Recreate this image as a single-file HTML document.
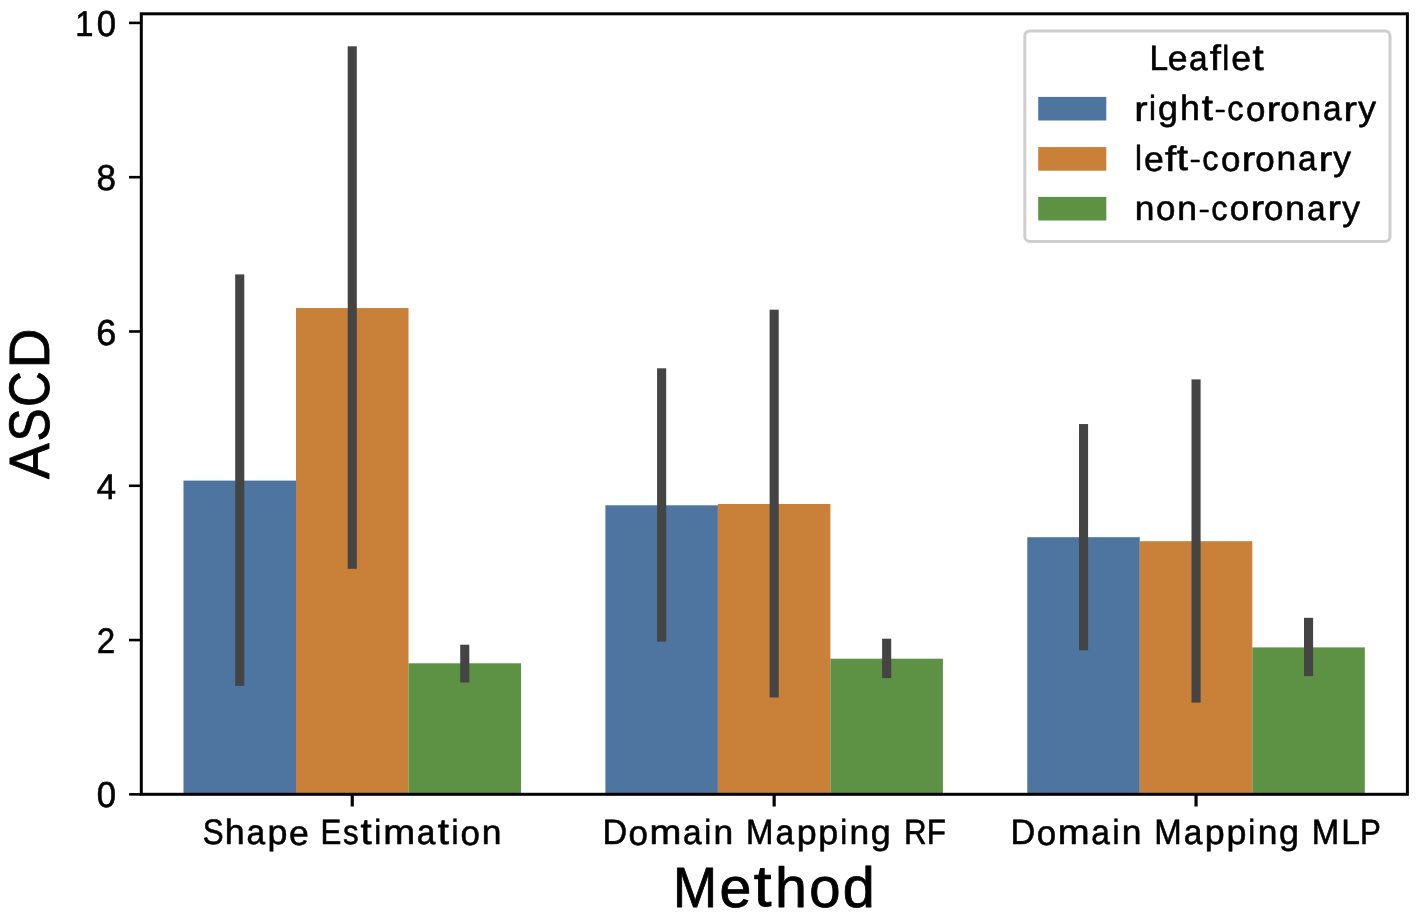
<!DOCTYPE html>
<html><head><meta charset="utf-8"><title>ASCD by Method</title>
<style>
html,body{margin:0;padding:0;background:#fff;}
body{width:1417px;height:914px;overflow:hidden;font-family:"Liberation Sans",sans-serif;}
svg{display:block;will-change:transform;}
text{font-family:"Liberation Sans",sans-serif;fill:#000;stroke:#000;stroke-linejoin:round;text-rendering:geometricPrecision;}
.s text{font-size:36px;stroke-width:0.6px;}
.b text{font-size:57px;stroke-width:0.85px;}
</style></head><body>
<svg width="1417" height="914" viewBox="0 0 1417 914" role="img">
<desc>Grouped bar chart of ASCD by Method (Shape Estimation, Domain Mapping RF, Domain Mapping MLP) with error bars; legend Leaflet: right-coronary, left-coronary, non-coronary.</desc>
<g>
<rect x="183.49" y="480.60" width="112.51" height="313.60" fill="#4e74a0"/>
<rect x="296.00" y="308.05" width="112.51" height="486.15" fill="#c98039"/>
<rect x="408.50" y="663.30" width="112.51" height="130.90" fill="#5d9143"/>
<rect x="605.39" y="505.30" width="112.51" height="288.90" fill="#4e74a0"/>
<rect x="717.90" y="504.00" width="112.51" height="290.20" fill="#c98039"/>
<rect x="830.40" y="658.70" width="112.51" height="135.50" fill="#5d9143"/>
<rect x="1027.29" y="537.20" width="112.51" height="257.00" fill="#4e74a0"/>
<rect x="1139.80" y="541.20" width="112.51" height="253.00" fill="#c98039"/>
<rect x="1252.30" y="647.40" width="112.51" height="146.80" fill="#5d9143"/>
</g>
<g>
<rect x="235.19" y="274.40" width="9.10" height="411.50" fill="#444444"/>
<rect x="347.70" y="46.30" width="9.10" height="522.50" fill="#444444"/>
<rect x="460.21" y="644.70" width="9.10" height="37.80" fill="#444444"/>
<rect x="657.09" y="368.30" width="9.10" height="273.30" fill="#444444"/>
<rect x="769.60" y="309.70" width="9.10" height="387.80" fill="#444444"/>
<rect x="882.11" y="638.70" width="9.10" height="39.40" fill="#444444"/>
<rect x="1078.99" y="424.05" width="9.10" height="226.25" fill="#444444"/>
<rect x="1191.50" y="379.40" width="9.10" height="323.20" fill="#444444"/>
<rect x="1304.01" y="617.80" width="9.10" height="58.30" fill="#444444"/>
</g>
<rect x="141.30" y="13.80" width="1266.10" height="780.50" fill="none" stroke="#000" stroke-width="3.0" stroke-linejoin="miter"/>
<line x1="129.00" y1="794.35" x2="141.30" y2="794.35" stroke="#000" stroke-width="2.6"/>
<line x1="129.00" y1="640.06" x2="141.30" y2="640.06" stroke="#000" stroke-width="2.6"/>
<line x1="129.00" y1="485.77" x2="141.30" y2="485.77" stroke="#000" stroke-width="2.6"/>
<line x1="129.00" y1="331.48" x2="141.30" y2="331.48" stroke="#000" stroke-width="2.6"/>
<line x1="129.00" y1="177.19" x2="141.30" y2="177.19" stroke="#000" stroke-width="2.6"/>
<line x1="129.00" y1="22.90" x2="141.30" y2="22.90" stroke="#000" stroke-width="2.6"/>
<line x1="352.25" y1="794.20" x2="352.25" y2="806.50" stroke="#000" stroke-width="3.2"/>
<line x1="774.15" y1="794.20" x2="774.15" y2="806.50" stroke="#000" stroke-width="3.2"/>
<line x1="1196.05" y1="794.20" x2="1196.05" y2="806.50" stroke="#000" stroke-width="3.2"/>
<g class="s">
<g aria-label="0"><text stroke-width="0.66" transform="matrix(0.9631 0 0 0.9979 96.72 807.36)">0</text></g>
<g aria-label="2"><text stroke-width="0.73" transform="matrix(0.9208 0 0 0.9897 96.69 652.90)">2</text></g>
<g aria-label="4"><text stroke-width="0.66" transform="matrix(0.9653 0 0 0.9889 96.69 498.64)">4</text></g>
<g aria-label="6"><text transform="matrix(1.0004 0 0 1.0002 96.35 344.52)">6</text></g>
<g aria-label="8"><text stroke-width="0.64" transform="matrix(0.9743 0 0 0.9986 96.61 190.21)">8</text></g>
<g aria-label="10"><text stroke-width="0.75" transform="matrix(0.9082 0 0 0.9852 75.37 35.73)">1</text><text stroke-width="0.66" transform="matrix(0.9631 0 0 0.9979 96.72 35.91)">0</text></g>
<g aria-label="Shape Estimation"><text stroke-width="0.83" transform="matrix(0.8700 0 0 0.9851 202.78 844.42)">S</text><text transform="matrix(0.9909 0 0 0.9754 224.83 844.39)">h</text><text stroke-width="0.71" transform="matrix(0.9296 0 0 0.9624 246.56 844.49)">a</text><text transform="matrix(0.9961 0 0 0.9595 267.62 844.36)">p</text><text transform="matrix(0.9896 0 0 0.9674 288.92 844.54)">e</text> <text stroke-width="0.83" transform="matrix(0.8700 0 0 0.9759 320.48 844.28)">E</text><text stroke-width="0.83" transform="matrix(0.8700 0 0 0.9591 343.06 844.43)">s</text><text stroke-width="0.38" transform="matrix(1.1200 0 0 1.0062 360.57 844.23)">t</text><text stroke-width="0.83" transform="matrix(0.8700 0 0 0.9670 374.27 844.28)">i</text><text stroke-width="0.49" transform="matrix(1.0628 0 0 0.9662 383.30 844.45)">m</text><text stroke-width="0.71" transform="matrix(0.9296 0 0 0.9624 416.79 844.49)">a</text><text stroke-width="0.38" transform="matrix(1.1200 0 0 1.0062 437.75 844.23)">t</text><text stroke-width="0.83" transform="matrix(0.8700 0 0 0.9670 451.45 844.28)">i</text><text stroke-width="0.65" transform="matrix(0.9719 0 0 0.9659 460.41 844.52)">o</text><text stroke-width="0.63" transform="matrix(0.9833 0 0 0.9593 481.66 844.39)">n</text></g>
<g aria-label="Domain Mapping RF"><text stroke-width="0.68" transform="matrix(0.9509 0 0 0.9821 602.38 844.36)">D</text><text stroke-width="0.65" transform="matrix(0.9719 0 0 0.9659 628.56 844.52)">o</text><text stroke-width="0.49" transform="matrix(1.0628 0 0 0.9662 649.56 844.45)">m</text><text stroke-width="0.71" transform="matrix(0.9296 0 0 0.9624 683.05 844.49)">a</text><text stroke-width="0.83" transform="matrix(0.8700 0 0 0.9670 704.31 844.28)">i</text><text stroke-width="0.63" transform="matrix(0.9833 0 0 0.9593 713.59 844.39)">n</text> <text stroke-width="0.74" transform="matrix(0.9165 0 0 0.9797 746.09 844.33)">M</text><text stroke-width="0.71" transform="matrix(0.9296 0 0 0.9624 775.56 844.49)">a</text><text transform="matrix(0.9961 0 0 0.9595 796.63 844.36)">p</text><text transform="matrix(0.9961 0 0 0.9595 818.34 844.36)">p</text><text stroke-width="0.83" transform="matrix(0.8700 0 0 0.9670 840.24 844.28)">i</text><text stroke-width="0.63" transform="matrix(0.9833 0 0 0.9593 849.52 844.39)">n</text><text transform="matrix(0.9950 0 0 0.9607 870.82 844.35)">g</text> <text stroke-width="0.82" transform="matrix(0.8704 0 0 0.9766 903.90 844.29)">R</text><text stroke-width="0.83" transform="matrix(0.8700 0 0 0.9759 926.77 844.28)">F</text></g>
<g aria-label="Domain Mapping MLP"><text stroke-width="0.68" transform="matrix(0.9509 0 0 0.9821 1010.49 844.36)">D</text><text stroke-width="0.65" transform="matrix(0.9719 0 0 0.9659 1036.68 844.52)">o</text><text stroke-width="0.49" transform="matrix(1.0628 0 0 0.9662 1057.67 844.45)">m</text><text stroke-width="0.71" transform="matrix(0.9296 0 0 0.9624 1091.17 844.49)">a</text><text stroke-width="0.83" transform="matrix(0.8700 0 0 0.9670 1112.42 844.28)">i</text><text stroke-width="0.63" transform="matrix(0.9833 0 0 0.9593 1121.71 844.39)">n</text> <text stroke-width="0.74" transform="matrix(0.9165 0 0 0.9797 1154.20 844.33)">M</text><text stroke-width="0.71" transform="matrix(0.9296 0 0 0.9624 1183.68 844.49)">a</text><text transform="matrix(0.9961 0 0 0.9595 1204.75 844.36)">p</text><text transform="matrix(0.9961 0 0 0.9595 1226.46 844.36)">p</text><text stroke-width="0.83" transform="matrix(0.8700 0 0 0.9670 1248.35 844.28)">i</text><text stroke-width="0.63" transform="matrix(0.9833 0 0 0.9593 1257.64 844.39)">n</text><text transform="matrix(0.9950 0 0 0.9607 1278.93 844.35)">g</text> <text stroke-width="0.74" transform="matrix(0.9165 0 0 0.9797 1311.84 844.33)">M</text><text stroke-width="0.71" transform="matrix(0.9327 0 0 0.9809 1341.29 844.35)">L</text><text stroke-width="0.83" transform="matrix(0.8700 0 0 0.9759 1359.89 844.28)">P</text></g>
</g>
<rect x="1024.8" y="30.9" width="365.2" height="210.6" rx="5" ry="5" fill="#ffffff" stroke="#cecece" stroke-width="3"/>
<rect x="1038.2" y="96.90" width="68.1" height="23.6" fill="#4e74a0"/>
<rect x="1038.2" y="147.10" width="68.1" height="23.6" fill="#c98039"/>
<rect x="1038.2" y="196.90" width="68.1" height="23.6" fill="#5d9143"/>
<g class="s">
<g aria-label="right-coronary"><text stroke-width="0.38" transform="matrix(1.1200 0 0 0.9719 1134.32 120.51)">r</text><text stroke-width="0.83" transform="matrix(0.8700 0 0 0.9670 1149.05 120.28)">i</text><text transform="matrix(0.9950 0 0 0.9607 1157.95 120.35)">g</text><text transform="matrix(0.9909 0 0 0.9754 1179.91 120.39)">h</text><text stroke-width="0.38" transform="matrix(1.1200 0 0 1.0062 1201.64 120.23)">t</text><text stroke-width="0.68" transform="matrix(0.9468 0 0 0.7349 1214.55 118.33)">-</text><text stroke-width="0.75" transform="matrix(0.9046 0 0 0.9604 1227.28 120.47)">c</text><text stroke-width="0.65" transform="matrix(0.9719 0 0 0.9659 1245.94 120.52)">o</text><text stroke-width="0.38" transform="matrix(1.1200 0 0 0.9719 1266.75 120.51)">r</text><text stroke-width="0.65" transform="matrix(0.9719 0 0 0.9659 1280.17 120.52)">o</text><text stroke-width="0.63" transform="matrix(0.9833 0 0 0.9593 1301.43 120.39)">n</text><text stroke-width="0.71" transform="matrix(0.9296 0 0 0.9624 1323.02 120.49)">a</text><text stroke-width="0.38" transform="matrix(1.1200 0 0 0.9719 1343.61 120.51)">r</text><text stroke-width="0.62" transform="matrix(0.9852 0 0 0.9539 1358.30 120.40)">y</text></g>
<g aria-label="left-coronary"><text stroke-width="0.83" transform="matrix(0.8700 0 0 0.9670 1134.97 170.28)">l</text><text transform="matrix(0.9896 0 0 0.9674 1143.88 170.54)">e</text><text stroke-width="0.38" transform="matrix(1.1200 0 0 0.9856 1165.06 170.51)">f</text><text stroke-width="0.38" transform="matrix(1.1200 0 0 1.0062 1176.68 170.23)">t</text><text stroke-width="0.68" transform="matrix(0.9468 0 0 0.7349 1189.59 168.33)">-</text><text stroke-width="0.75" transform="matrix(0.9046 0 0 0.9604 1202.31 170.47)">c</text><text stroke-width="0.65" transform="matrix(0.9719 0 0 0.9659 1220.98 170.52)">o</text><text stroke-width="0.38" transform="matrix(1.1200 0 0 0.9719 1241.78 170.51)">r</text><text stroke-width="0.65" transform="matrix(0.9719 0 0 0.9659 1255.21 170.52)">o</text><text stroke-width="0.63" transform="matrix(0.9833 0 0 0.9593 1276.46 170.39)">n</text><text stroke-width="0.71" transform="matrix(0.9296 0 0 0.9624 1298.06 170.49)">a</text><text stroke-width="0.38" transform="matrix(1.1200 0 0 0.9719 1318.65 170.51)">r</text><text stroke-width="0.62" transform="matrix(0.9852 0 0 0.9539 1333.33 170.40)">y</text></g>
<g aria-label="non-coronary"><text stroke-width="0.63" transform="matrix(0.9833 0 0 0.9593 1134.77 220.29)">n</text><text stroke-width="0.65" transform="matrix(0.9719 0 0 0.9659 1156.12 220.42)">o</text><text stroke-width="0.63" transform="matrix(0.9833 0 0 0.9593 1177.37 220.29)">n</text><text stroke-width="0.68" transform="matrix(0.9468 0 0 0.7349 1198.47 218.23)">-</text><text stroke-width="0.75" transform="matrix(0.9046 0 0 0.9604 1211.20 220.37)">c</text><text stroke-width="0.65" transform="matrix(0.9719 0 0 0.9659 1229.86 220.42)">o</text><text stroke-width="0.38" transform="matrix(1.1200 0 0 0.9719 1250.66 220.41)">r</text><text stroke-width="0.65" transform="matrix(0.9719 0 0 0.9659 1264.09 220.42)">o</text><text stroke-width="0.63" transform="matrix(0.9833 0 0 0.9593 1285.35 220.29)">n</text><text stroke-width="0.71" transform="matrix(0.9296 0 0 0.9624 1306.94 220.39)">a</text><text stroke-width="0.38" transform="matrix(1.1200 0 0 0.9719 1327.53 220.41)">r</text><text stroke-width="0.62" transform="matrix(0.9852 0 0 0.9539 1342.21 220.30)">y</text></g>
<g aria-label="Leaflet"><text stroke-width="0.71" transform="matrix(0.9327 0 0 0.9809 1149.46 70.15)">L</text><text transform="matrix(0.9896 0 0 0.9674 1167.63 70.34)">e</text><text stroke-width="0.71" transform="matrix(0.9296 0 0 0.9624 1188.98 70.29)">a</text><text stroke-width="0.38" transform="matrix(1.1200 0 0 0.9856 1209.77 70.31)">f</text><text stroke-width="0.83" transform="matrix(0.8700 0 0 0.9670 1222.26 70.08)">l</text><text transform="matrix(0.9896 0 0 0.9674 1231.18 70.34)">e</text><text stroke-width="0.38" transform="matrix(1.1200 0 0 1.0062 1252.53 70.03)">t</text></g>
</g>
<g class="b">
<g aria-label="Method"><text stroke-width="1.04" transform="matrix(0.9287 0 0 0.9959 672.94 906.58)">M</text><text transform="matrix(1.0042 0 0 0.9845 719.55 906.91)">e</text><text stroke-width="0.50" transform="matrix(1.1200 0 0 1.0220 753.85 906.39)">t</text><text transform="matrix(1.0062 0 0 0.9915 775.01 906.68)">h</text><text stroke-width="0.89" transform="matrix(0.9863 0 0 0.9830 809.34 906.89)">o</text><text stroke-width="0.82" transform="matrix(1.0099 0 0 0.9972 842.68 906.91)">d</text></g>
<g aria-label="ASCD"><text stroke-width="1.01" transform="matrix(0 -0.9390 0.9966 0 48.99 479.07)">A</text><text stroke-width="1.23" transform="matrix(0 -0.8700 1.0004 0 49.11 441.42)">S</text><text stroke-width="1.23" transform="matrix(0 -0.8700 1.0004 0 49.11 406.91)">C</text><text stroke-width="0.95" transform="matrix(0 -0.9640 0.9983 0 49.03 368.34)">D</text></g>
</g>
</svg></body></html>
